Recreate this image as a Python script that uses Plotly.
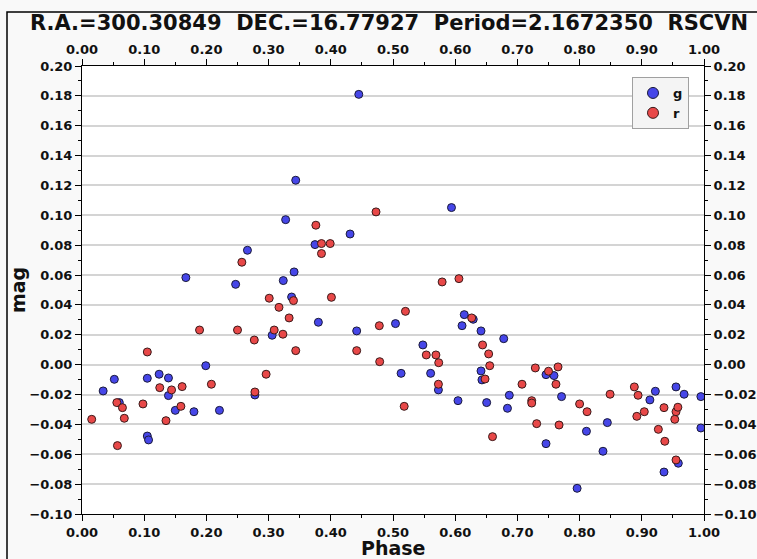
import plotly.graph_objects as go

title_text = "R.A.=300.30849  DEC.=16.77927  Period=2.1672350  RSCVN"

g_phase = [0.034, 0.052, 0.060, 0.105, 0.105, 0.107, 0.124, 0.139, 0.139, 0.150,
           0.167, 0.180, 0.199, 0.221, 0.247, 0.266, 0.278, 0.3057, 0.3236, 0.3274,
           0.337, 0.341, 0.3436, 0.3746, 0.380, 0.431, 0.4416, 0.445, 0.504, 0.513,
           0.548, 0.5605, 0.573, 0.594, 0.6045, 0.611, 0.6146, 0.629, 0.6415, 0.6415,
           0.643, 0.6506, 0.678, 0.684, 0.687, 0.746, 0.746, 0.7588, 0.771, 0.796,
           0.811, 0.8376, 0.8446, 0.913, 0.9218, 0.9357, 0.955, 0.9587, 0.968, 0.995,
           0.995]
g_mag = [-0.0176, -0.0098, -0.0254, -0.0091, -0.0478, -0.0504, -0.0064, -0.0089, -0.0207, -0.0306,
         0.0583, -0.0315, -0.0007, -0.0306, 0.0538, 0.0766, -0.0203, 0.0197, 0.0563, 0.0971,
         0.0453, 0.0621, 0.1235, 0.0804, 0.0284, 0.0875, 0.0226, 0.181, 0.0275, -0.0058,
         0.0132, -0.0058, -0.0169, 0.1052, -0.0241, 0.0261, 0.0335, 0.0304, 0.0226, -0.0042,
         -0.0102, -0.0254, 0.0174, -0.0292, -0.0205, -0.0067, -0.0529, -0.0073, -0.0214, -0.0828,
         -0.0446, -0.0580, -0.0388, -0.0236, -0.0178, -0.0719, -0.0149, -0.0660, -0.0198, -0.0214,
         -0.0424]

r_phase = [0.0156, 0.056, 0.057, 0.065, 0.068, 0.098, 0.105, 0.125, 0.135, 0.144,
           0.159, 0.161, 0.189, 0.208, 0.250, 0.257, 0.277, 0.278, 0.296, 0.301,
           0.309, 0.3167, 0.323, 0.333, 0.340, 0.3436, 0.376, 0.385, 0.385, 0.399,
           0.401, 0.4416, 0.4727, 0.478, 0.4786, 0.518, 0.520, 0.5535, 0.569, 0.5735,
           0.573, 0.579, 0.606, 0.6265, 0.644, 0.6538, 0.6555, 0.648, 0.660, 0.7074,
           0.723, 0.723, 0.7288, 0.731, 0.750, 0.762, 0.7653, 0.767, 0.800, 0.812,
           0.849, 0.888, 0.892, 0.894, 0.904, 0.9266, 0.9357, 0.937, 0.953, 0.955,
           0.955, 0.958]
r_mag = [-0.0366, -0.0254, -0.0542, -0.0288, -0.0359, -0.0263, 0.0085, -0.0154, -0.0375, -0.0169,
         -0.0279, -0.0147, 0.0232, -0.0131, 0.0232, 0.0686, 0.0165, -0.0183, -0.0064, 0.0445,
         0.0232, 0.0384, 0.0204, 0.0313, 0.0429, 0.0094, 0.0934, 0.0811, 0.0744, 0.0811,
         0.0451, 0.0094, 0.1023, 0.0261, 0.0020, -0.0279, 0.0357, 0.0065, 0.0065, 0.0013,
         -0.0131, 0.0554, 0.0576, 0.0313, 0.0132, 0.0072, -0.0007, -0.0096, -0.0482, -0.0131,
         -0.0241, -0.0257, -0.0022, -0.0395, -0.0044, -0.0131, -0.0015, -0.0404, -0.0263, -0.0315,
         -0.0198, -0.0149, -0.0346, -0.0205, -0.0315, -0.0433, -0.0288, -0.0513, -0.0366, -0.0315,
         -0.0638, -0.0285]

x_range = [0.0, 1.0]
y_range = [-0.10, 0.20]

FONT = "DejaVu Sans"
W, H = 757, 559
L, R, T, B = 82, 53, 66, 45
PW, PH = W - L - R, H - T - B

G_COLOR, G_EDGE = "#4646e8", "#1a1a3a"
R_COLOR, R_EDGE = "#e84848", "#3a1a1a"

fig = go.Figure()
fig.add_trace(go.Scatter(x=g_phase, y=g_mag, mode="markers", name="g", showlegend=False,
                         marker=dict(color=G_COLOR, size=8, line=dict(color=G_EDGE, width=1))))
fig.add_trace(go.Scatter(x=r_phase, y=r_mag, mode="markers", name="r", showlegend=False,
                         marker=dict(color=R_COLOR, size=8, line=dict(color=R_EDGE, width=1))))
# legend-only entries with larger symbols
fig.add_trace(go.Scatter(x=[None], y=[None], mode="markers", name="g",
                         marker=dict(color=G_COLOR, size=11, line=dict(color=G_EDGE, width=1))))
fig.add_trace(go.Scatter(x=[None], y=[None], mode="markers", name="r",
                         marker=dict(color=R_COLOR, size=11, line=dict(color=R_EDGE, width=1))))
# invisible trace to activate top/right axes
fig.add_trace(go.Scatter(x=[x_range[0]], y=[y_range[0]], xaxis="x2", yaxis="y2",
                         mode="markers", marker=dict(opacity=0), showlegend=False, hoverinfo="skip"))

tickfont = dict(family=FONT, size=13, color="#111", weight="bold")
common_x = dict(range=x_range, dtick=0.1, tick0=0, tickformat=".2f", ticks="outside", ticklen=6,
                tickcolor="#000", showline=True, linecolor="#000", linewidth=1, showgrid=False,
                zeroline=False, tickfont=tickfont, automargin=False,
                minor=dict(ticks="outside", dtick=0.05, ticklen=3, tickcolor="#000", showgrid=False))
common_y = dict(range=y_range, dtick=0.02, tick0=0, tickformat=".2f", ticks="outside", ticklen=6,
                tickcolor="#000", showline=True, linecolor="#000", linewidth=1,
                zeroline=False, tickfont=tickfont, automargin=False,
                minor=dict(ticks="outside", dtick=0.01, ticklen=3, tickcolor="#000", showgrid=False))

fig.update_layout(
    width=W, height=H, autosize=False,
    margin=dict(l=L, r=R, t=T, b=B, pad=0, autoexpand=False),
    paper_bgcolor="#f9f9f9", plot_bgcolor="#ffffff",
    font=dict(family=FONT, color="#111"),
    xaxis=dict(**common_x),
    yaxis=dict(**common_y, showgrid=True, gridcolor="#d4d4d4", gridwidth=1.5),
    xaxis2=dict(**common_x, overlaying="x", side="top", anchor="y"),
    yaxis2=dict(**common_y, overlaying="y", side="right", anchor="x", showgrid=False),
    showlegend=True,
    legend=dict(x=(632 - L) / PW, y=(H - B - 77) / PH, xanchor="left", yanchor="top",
                bgcolor="#f4f4f4", bordercolor="#a0a0a0", borderwidth=1,
                font=dict(family=FONT, size=13, color="#111", weight="bold"),
                itemwidth=30, tracegroupgap=0),
    title=dict(text=title_text, x=389 / W, xref="container", xanchor="center",
               y=1 - 23 / H, yref="container", yanchor="middle",
               font=dict(family=FONT, size=21, color="#111", weight="bold")),
    shapes=[dict(type="rect", xref="paper", yref="paper",
                 x0=(7 - L) / PW, x1=(W + 5 - L) / PW,
                 y0=(H - B - (H + 5)) / PH, y1=(H - B - 12) / PH,
                 line=dict(color="#000", width=1.5), fillcolor="rgba(0,0,0,0)", layer="below")],
    annotations=[
        dict(text="Phase", xref="paper", yref="paper", x=0.5, y=(H - B - 548) / PH,
             xanchor="center", yanchor="middle", showarrow=False, height=18, valign="middle",
             font=dict(family=FONT, size=19, color="#111", weight="bold")),
        dict(text="mag", xref="paper", yref="paper", x=(18 - L) / PW, y=0.5,
             xanchor="center", yanchor="middle", showarrow=False, textangle=-90,
             font=dict(family=FONT, size=19, color="#111", weight="bold")),
    ],
)

fig.write_html("out.html", config={"displayModeBar": False},
               post_script="document.body.style.margin='0';document.body.style.overflow='hidden';")
